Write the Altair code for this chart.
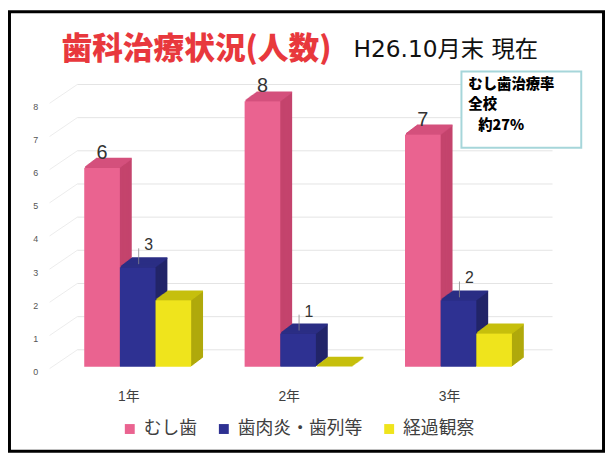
import altair as alt
import pandas as pd

# ---- data ----
grades = ["1年", "2年", "3年"]
series = ["むし歯", "歯肉炎・歯列等", "経過観察"]
caries = [6, 8, 7]
gingivitis = [3, 1, 2]
observation = [2, 0, 1]
y_ticks = [0, 1, 2, 3, 4, 5, 6, 7, 8]
title_main = "歯科治療状況(人数)"
title_sub = "H26.10月末 現在"
note_lines = ["むし歯治療率", "全校"]
note_last = "約27%"

# ---- styles ----
front_colors = ["#ea6390", "#2e3192", "#efe41c"]
side_colors = ["#c4446d", "#222569", "#b0a90c"]
top_colors = ["#d4507d", "#2b2e84", "#c6bf0c"]
JP = "Noto Sans CJK JP"
MIX = "Liberation Sans, Noto Sans CJK JP"

rows = []
for s, vals in zip(series, [caries, gingivitis, observation]):
    for g, v in zip(grades, vals):
        rows.append({"grade": g, "series": s, "value": v})
df = pd.DataFrame(rows)
grid_df = pd.DataFrame({"value": y_ticks})

W, H = 486, 268
PAD = {"left": 50, "top": 92, "right": 67, "bottom": 87}
TOTAL_W = PAD["left"] + W + PAD["right"]
TOTAL_H = PAD["top"] + H + PAD["bottom"]
BAR = 36
offsets = [-BAR, 0, BAR]
DEPTH = 12
DX, DY = 1.0, 0.75

yscale = alt.Scale(domain=[0, 8], nice=False, zero=True)
xscale = alt.Scale(domain=grades, paddingInner=0, paddingOuter=0)
x_axis = alt.Axis(title=None, domain=False, ticks=False, labelAngle=0, grid=False,
                  labelFontSize=14, labelColor="#404040", labelPadding=23,
                  labelOffset=-9, labelFont=MIX)
y_axis = alt.Axis(values=y_ticks, title=None, domain=False, ticks=False,
                  grid=False, labelFontSize=9, labelColor="#555555",
                  labelPadding=20, labelOffset=5, labelFont="Liberation Sans")
xenc = alt.X("grade:N", sort=grades, scale=xscale, axis=x_axis)
yenc = alt.Y("value:Q", scale=yscale, axis=y_axis)

base = alt.Chart(df)
layers = []

# back wall grid lines and side wall diagonals
layers.append(
    alt.Chart(grid_df).mark_rule(color="#e4e4e4", strokeWidth=1, yOffset=-17)
    .encode(y=yenc, x=alt.value(20), x2=alt.value(500))
)
layers.append(
    alt.Chart(grid_df).mark_rule(color="#ececec", strokeWidth=1, yOffset=2, y2Offset=-17)
    .encode(y=yenc, y2=alt.Y2("value:Q"), x=alt.value(-8), x2=alt.value(20))
)

# 3D extrusion: side faces and top faces
for i in range(DEPTH, 0, -1):
    dx, dy = i * DX, i * DY
    for k, s in enumerate(series):
        layers.append(
            base.transform_filter(alt.datum.series == s)
            .mark_bar(size=BAR, color=side_colors[k], xOffset=offsets[k] + dx,
                      yOffset=-dy, y2Offset=-dy)
            .encode(x=xenc, y=yenc)
        )
    for k, s in enumerate(series):
        layers.append(
            base.transform_filter(alt.datum.series == s)
            .mark_bar(size=BAR, color=top_colors[k], xOffset=offsets[k] + dx,
                      yOffset=-dy - 1.0, y2Offset=-dy + 0.7)
            .encode(x=xenc, y=yenc, y2=alt.Y2("value:Q"))
        )

color_enc = alt.Color("series:N", sort=series,
                      scale=alt.Scale(domain=series, range=front_colors),
                      legend=alt.Legend(title=None))

# front faces
for k, s in enumerate(series):
    layers.append(
        base.transform_filter(alt.datum.series == s)
        .mark_bar(size=BAR, xOffset=offsets[k], opacity=1)
        .encode(x=xenc, y=yenc, color=color_enc)
    )

# value labels
layers.append(
    base.transform_filter(alt.datum.series == series[0])
    .mark_text(xOffset=offsets[0], dy=-15, fontSize=20, color="#333333",
               font="Liberation Sans", baseline="middle")
    .encode(x=xenc, y=yenc, text="value:Q")
)
layers.append(
    base.transform_filter(alt.datum.series == series[1])
    .mark_rule(xOffset=offsets[1] + 1, yOffset=-3, y2Offset=-19, color="#8a8a8a", strokeWidth=0.8)
    .encode(x=xenc, y=yenc, y2=alt.Y2("value:Q"))
)
layers.append(
    base.transform_filter(alt.datum.series == series[1])
    .mark_text(xOffset=offsets[1] + 11, dy=-22, fontSize=16, color="#333333",
               font="Liberation Sans", baseline="middle")
    .encode(x=xenc, y=yenc, text="value:Q")
)

one = pd.DataFrame({"a": [0]})

# titles
layers.append(
    alt.Chart(one).mark_text(align="left", baseline="middle", font=JP, fontWeight=900,
                             fontSize=31, color="#e8383d")
    .encode(x=alt.value(4), y=alt.value(-52), text=alt.value(title_main))
)
layers.append(
    alt.Chart(one).mark_text(align="left", baseline="middle",
                             font="DejaVu Sans, Noto Sans CJK JP", fontWeight=400,
                             fontSize=23.5, color="#111111")
    .encode(x=alt.value(299), y=alt.value(-52), text=alt.value(title_sub))
)

# note box
layers.append(
    alt.Chart(one).mark_rect(fill="white", stroke="#a6d6da", strokeWidth=2)
    .encode(x=alt.value(408), x2=alt.value(529), y=alt.value(-30), y2=alt.value(47))
)
for j, line in enumerate(note_lines):
    layers.append(
        alt.Chart(one).mark_text(align="left", baseline="middle", font=JP, fontWeight=900,
                                 fontSize=14.5, color="#000000")
        .encode(x=alt.value(415), y=alt.value(-16.5 + 20.5 * j), text=alt.value(line))
    )
layers.append(
    alt.Chart(one).mark_text(align="left", baseline="middle", font=JP, fontWeight=900,
                             fontSize=14.5, color="#000000")
    .encode(x=alt.value(425), y=alt.value(24.5), text=alt.value(note_last))
)

# outer frame
layers.append(
    alt.Chart(one).mark_rect(fillOpacity=0, stroke="black", strokeWidth=3)
    .encode(x=alt.value(-PAD["left"] + 1.5), x2=alt.value(TOTAL_W - PAD["left"] - 1.5),
            y=alt.value(-PAD["top"] + 1.5), y2=alt.value(TOTAL_H - PAD["top"] - 1.5))
)

chart = (
    alt.layer(*layers)
    .properties(width=W, height=H, padding=PAD, autosize=alt.AutoSizeParams(type="none"),
                background="white")
    .configure_view(stroke=None)
    .configure_legend(orient="none", legendX=64, legendY=322, direction="horizontal",
                      symbolType="square", symbolSize=100, symbolStrokeWidth=0,
                      symbolOpacity=1, labelFontSize=18, labelFont=JP,
                      labelColor="#404040", columnPadding=18, labelOffset=5)
)

chart.save("out.html", embed_options={"renderer": "svg", "actions": False})
